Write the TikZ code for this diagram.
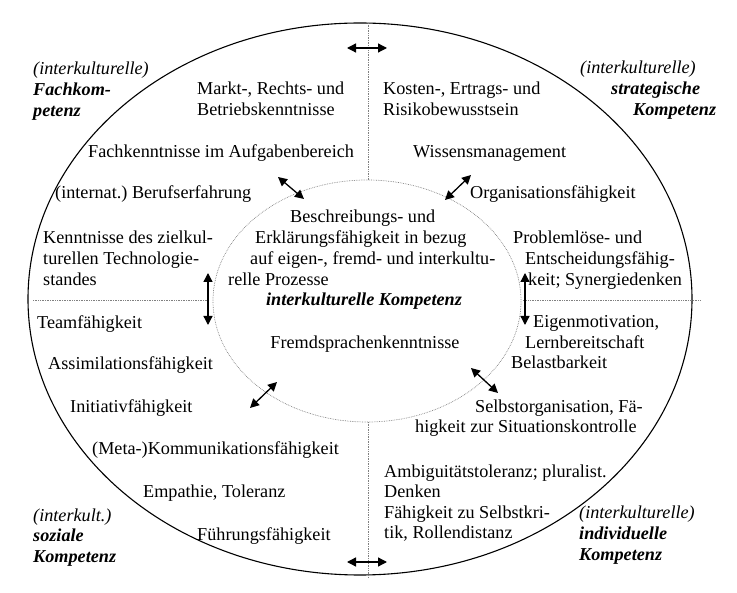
\documentclass[tikz,border=0pt]{standalone}
\usepackage{fontspec}
\setmainfont{Liberation Serif}
\usetikzlibrary{arrows.meta}

\begin{document}
\frenchspacing
\begin{tikzpicture}[x=1pt,y=-1pt,
    txt/.style={anchor=base west,inner sep=0pt,align=left,font=\fontsize{18.2}{21}\selectfont},
    eng/.style={txt,font=\fontsize{18.2}{20.5}\selectfont},
    kopf/.style={txt,font=\fontsize{18.2}{21}\selectfont\bfseries\itshape},
    pfeil/.style={{Triangle[length=9pt,width=9pt]}-{Triangle[length=9pt,width=9pt]},line width=1.3pt},
    trenn/.style={densely dotted,gray,line width=0.7pt}]
\useasboundingbox (0,0) rectangle (737,593);
                % outer oval
                \draw[line width=1.1pt] (360,299) ellipse [x radius=332, y radius=276];
                % inner oval
                \draw[trenn] (367,301) ellipse [x radius=154, y radius=121];
                % dividers
                \draw[trenn] (368,23) -- (368,180) (368,422) -- (368,577)
                      (33,300) -- (207,300) (523,300) -- (701,300);
                % upper left
                \node[kopf] (kopfFach) at (33,117) {{\mdseries(interkulturelle)}\\Fachkom-\\petenz};
                \node[txt] (markt) at (197,116) {Markt-, Rechts- und\\Betriebskenntnisse};
                \node[txt] (fach) at (88,158) {Fachkenntnisse im Aufgabenbereich};
                \node[txt] (beruf) at (55,199) {(internat.) Berufserfahrung};
                \node[txt] (techno) at (43,286) {Kenntnisse des zielkul-\\turellen Technologie-\\standes};
                % upper right
                \node[kopf] (kopfStrat) at (580,116) {{\mdseries(interkulturelle)}\\\hspace*{31pt}strategische\\\hspace*{53pt}Kompetenz};
                \node[txt] (kosten) at (383,116) {Kosten-, Ertrags- und\\Risikobewusstsein};
                \node[txt] (wissen) at (413,158) {Wissensmanagement};
                \node[txt] (orga) at (470,199) {Organisationsfähigkeit};
                \node[txt] (problem) at (513,286) {Problemlöse- und\\\hspace*{12pt}Entscheidungsfähig-\\\hspace*{15pt}keit; Synergiedenken};
                % centre
                \node[txt] (mitte) at (228,286) {\hspace*{62pt}Beschreibungs- und\\\hspace*{27pt}Erklärungsfähigkeit in bezug\\\hspace*{22pt}auf eigen-, fremd- und interkultu-\\relle Prozesse};
                \node[kopf,anchor=base] (ikKomp) at (364,306) {interkulturelle Kompetenz};
                \node[txt,anchor=base] (fremd) at (365,349) {Fremdsprachenkenntnisse};
                % lower left
                \node[txt] (team) at (37,329) {Teamfähigkeit};
                \node[txt] (assim) at (48,370) {Assimilationsfähigkeit};
                \node[txt] (init) at (70,413) {Initiativfähigkeit};
                \node[txt] (meta) at (92,455) {(Meta-)Kommunikationsfähigkeit};
                \node[txt] (empathie) at (143,498) {Empathie, Toleranz};
                \node[txt] (fuehrung) at (197,541) {Führungsfähigkeit};
                \node[kopf] (kopfSozial) at (33,563) {{\mdseries(interkult.)}\\soziale\\Kompetenz};
                % lower right
                \node[eng] (eigen) at (511,369) {\hspace*{22pt}Eigenmotivation,\\\hspace*{14pt}Lernbereitschaft\\Belastbarkeit};
                \node[eng] (selbst) at (415,433) {\hspace*{60pt}Selbstorganisation, Fä-\\higkeit zur Situationskontrolle};
                \node[eng] (ambig) at (384,539) {Ambiguitätstoleranz; pluralist.\\Denken\\Fähigkeit zu Selbstkri-\\tik, Rollendistanz};
                \node[kopf] (kopfIndiv) at (579,561) {{\mdseries(interkulturelle)}\\individuelle\\Kompetenz};
                % arrows
                \coordinate (obenL) at (347,48);   \coordinate (obenR) at (387,48);
                \coordinate (untenL) at (347,562); \coordinate (untenR) at (387,562);
                \coordinate (linksO) at (208,273); \coordinate (linksU) at (208,325);
                \coordinate (rechtsO) at (525,273); \coordinate (rechtsU) at (525,325);
                \coordinate (olA) at (278,177); \coordinate (olB) at (304,199);
                \coordinate (orA) at (445,200); \coordinate (orB) at (471,175);
                \coordinate (ulA) at (250,408); \coordinate (ulB) at (277,382);
                \coordinate (urA) at (471,368); \coordinate (urB) at (498,393);
                \draw[pfeil] (obenL) -- (obenR);
                \draw[pfeil] (untenL) -- (untenR);
                \draw[pfeil] (linksO) -- (linksU);
                \draw[pfeil] (rechtsO) -- (rechtsU);
                \draw[pfeil] (olA) -- (olB);
                \draw[pfeil] (orA) -- (orB);
                \draw[pfeil] (ulA) -- (ulB);
                \draw[pfeil] (urA) -- (urB);
\end{tikzpicture}
\end{document}
